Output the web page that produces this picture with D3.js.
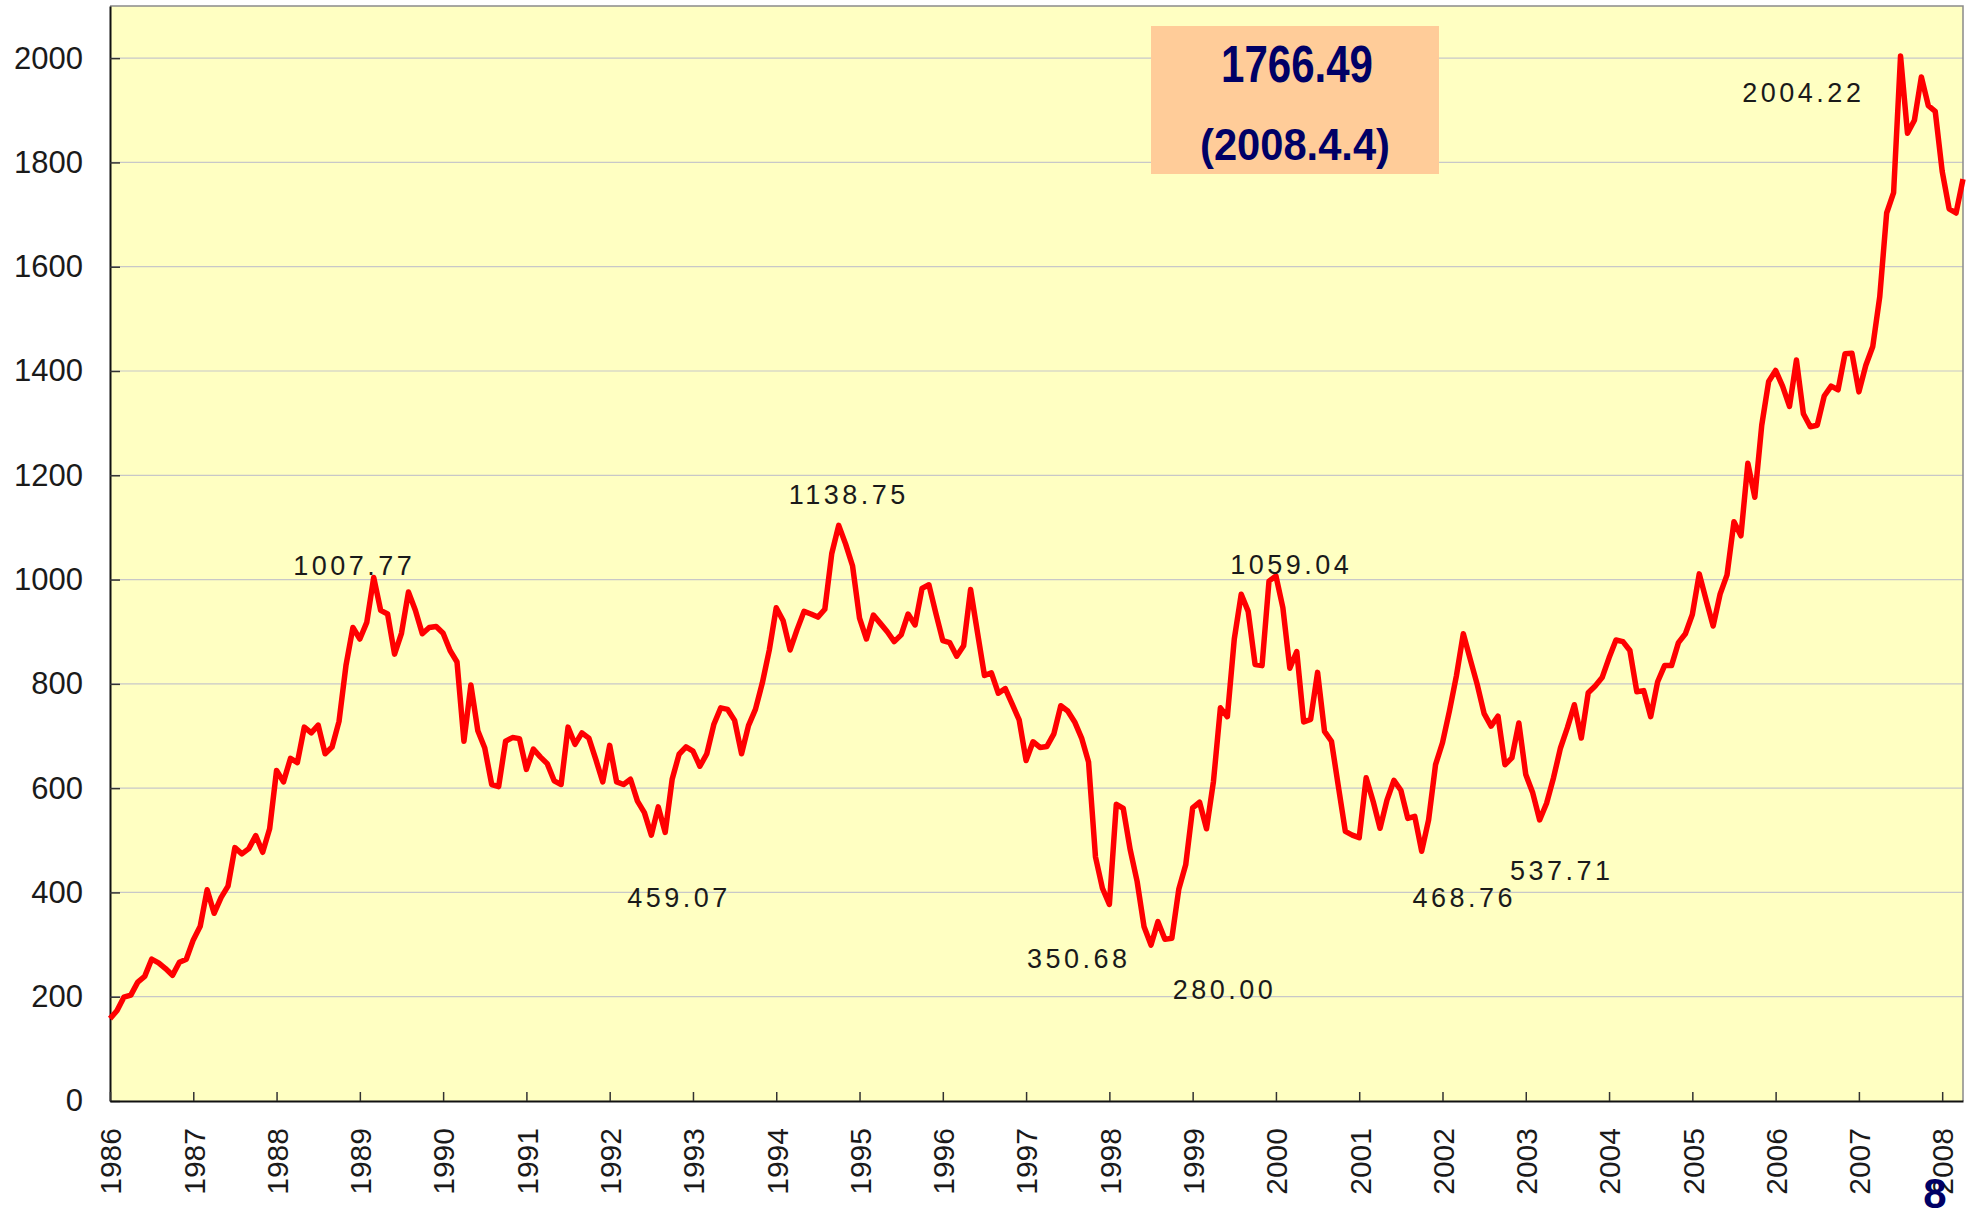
<!DOCTYPE html>
<html>
<head>
<meta charset="utf-8">
<script src="https://cdnjs.cloudflare.com/ajax/libs/d3/7.8.5/d3.min.js"></script>
<style>
  body { margin: 0; background: #fff; }
  svg { display: block; font-family: "Liberation Sans", Arial, sans-serif; }
</style>
</head>
<body>
<svg id="chart"></svg>
<script>
// monthly index level, Jan 1986 .. Apr 2008 (one row per year)
var kospi = [
    158, 173, 199, 203, 228, 239, 272, 265, 254, 241, 266, 272,
    309, 335, 405, 360, 390, 412, 486, 474, 484, 509, 477, 522,
    634, 612, 657, 649, 717, 706, 721, 666, 679, 728, 835, 908,
    886, 918, 1004, 941, 934, 857, 897, 976, 941, 896, 908, 910,
    897, 864, 842, 690, 798, 710, 677, 607, 603, 690, 697, 695,
    636, 675, 660, 647, 614, 607, 717, 684, 706, 696, 655, 612,
    682, 612, 607, 617, 575, 553, 510, 564, 515, 617, 665, 679,
    671, 642, 666, 722, 754, 751, 730, 666, 720, 751, 802, 865,
    946, 921, 865, 904, 939, 934, 928, 943, 1050, 1104, 1068, 1026,
    926, 886, 932, 916, 900, 881, 894, 934, 913, 983, 990, 935,
    883, 879, 853, 873, 981, 898, 816, 821, 782, 791, 761, 731,
    653, 689, 678, 680, 704, 758, 748, 727, 696, 650, 468, 408,
    377, 569, 561, 482, 421, 334, 299, 344, 310, 312, 406, 453,
    562, 573, 522, 613, 754, 737, 886, 972, 939, 837, 835, 997,
    1007, 946, 830, 862, 727, 732, 822, 709, 690, 603, 517, 510,
    505, 620, 575, 523, 577, 615, 596, 542, 546, 479, 539, 645,
    687, 748, 815, 896, 847, 799, 743, 719, 738, 645, 658, 725,
    626, 591, 539, 571, 620, 677, 716, 760, 696, 783, 796, 812,
    850, 884, 881, 864, 785, 787, 737, 804, 835, 835, 879, 896,
    933, 1011, 960, 911, 972, 1009, 1111, 1084, 1223, 1158, 1296, 1380,
    1401, 1371, 1332, 1421, 1318, 1293, 1296, 1352, 1371, 1364, 1433, 1434,
    1360, 1411, 1447, 1542, 1703, 1742, 2004, 1856, 1881, 1964, 1909, 1898,
    1783, 1711, 1703, 1768
];
var startYear = 1986;

var years = [1986, 1987, 1988, 1989, 1990, 1991, 1992, 1993, 1994, 1995, 1996, 1997,
             1998, 1999, 2000, 2001, 2002, 2003, 2004, 2005, 2006, 2007, 2008];
var yTicks = [0, 200, 400, 600, 800, 1000, 1200, 1400, 1600, 1800, 2000];

// peak / trough call-outs: text and where it sits (year, index level)
var noteText  = ["1007.77", "1138.75", "459.07", "1059.04", "350.68", "280.00", "468.76", "537.71", "2004.22"];
var noteYear  = [1988.20, 1994.15, 1992.21, 1999.45, 1997.01, 1998.76, 2001.64, 2002.81, 2005.60];
var noteLevel = [1008, 1145, 372, 1010, 255, 196, 372, 424, 1916];

var latest = ["1766.49", "(2008.4.4)"];
var pageNo = "8";

var W = 1971, H = 1218;
var svg = d3.select("#chart").attr("width", W).attr("height", H);

var x = d3.scaleLinear()
    .domain([startYear, startYear + (kospi.length - 1) / 12])
    .range([110, 1963]);
var y = d3.scaleLinear().domain([0, 2100]).range([1101, 6]);

var data = kospi.map(function(v, i) { return {t: startYear + i / 12, v: v}; });

// plot background
svg.append("rect")
    .attr("x", x.range()[0]).attr("y", y.range()[1])
    .attr("width", x.range()[1] - x.range()[0])
    .attr("height", y.range()[0] - y.range()[1])
    .attr("fill", "#ffffc2");

// gridlines
svg.append("g").selectAll("line")
    .data(yTicks.filter(function(d) { return d > 0; }))
    .join("line")
    .attr("x1", x.range()[0]).attr("x2", x.range()[1])
    .attr("y1", d => y(d)).attr("y2", d => y(d))
    .attr("stroke", "#c8c8c8").attr("stroke-width", 1.2);

// top + right frame
svg.append("path")
    .attr("d", "M" + x.range()[0] + "," + y.range()[1] + "H" + x.range()[1] + "V" + y.range()[0])
    .attr("fill", "none").attr("stroke", "#8a8a8a").attr("stroke-width", 1.5);

// axes
var yAxis = svg.append("g")
    .attr("transform", "translate(" + x.range()[0] + ",0)")
    .call(d3.axisLeft(y).tickValues(yTicks).tickFormat(d3.format("d"))
        .tickSize(-10).tickSizeOuter(0).tickPadding(27));
yAxis.selectAll("text").style("font-size", "31px").attr("fill", "#1a1a1a");

var xAxis = svg.append("g")
    .attr("transform", "translate(0," + y.range()[0] + ")")
    .call(d3.axisBottom(x).tickValues(years).tickFormat(d3.format("d")).tickSize(-9).tickSizeOuter(0));
xAxis.selectAll("text")
    .attr("transform", "rotate(-90)")
    .attr("x", -27).attr("y", 0).attr("dy", "0.36em")
    .style("text-anchor", "end")
    .style("font-size", "30px")
    .attr("fill", "#1a1a1a");

[yAxis, xAxis].forEach(function(a) {
    a.select(".domain").attr("stroke", "#111").attr("stroke-width", 2);
    a.selectAll(".tick line").attr("stroke", "#333").attr("stroke-width", 1.5);
});

// the index line
var line = d3.line().x(d => x(d.t)).y(d => y(d.v));
svg.append("path")
    .datum(data)
    .attr("d", line)
    .attr("fill", "none")
    .attr("stroke", "#ff0000")
    .attr("stroke-width", 5.5)
    .attr("stroke-linejoin", "round");

// call-out labels
svg.append("g").selectAll("text")
    .data(noteText)
    .join("text")
    .attr("x", (d, i) => x(noteYear[i]))
    .attr("y", (d, i) => y(noteLevel[i]))
    .style("font-size", "27px")
    .style("letter-spacing", "3.5px")
    .attr("fill", "#1a1a1a")
    .text(d => d);

// latest value box
var box = svg.append("g");
box.append("rect")
    .attr("x", 1151).attr("y", 26).attr("width", 288).attr("height", 148)
    .attr("fill", "#ffcc99");
box.append("text")
    .attr("x", 1221).attr("y", 82)
    .attr("textLength", 152).attr("lengthAdjust", "spacingAndGlyphs")
    .style("font-size", "51px").style("font-weight", "bold")
    .attr("fill", "#000066")
    .text(latest[0]);
box.append("text")
    .attr("x", 1200).attr("y", 160)
    .attr("textLength", 190).attr("lengthAdjust", "spacingAndGlyphs")
    .style("font-size", "45px").style("font-weight", "bold")
    .attr("fill", "#000066")
    .text(latest[1]);

// page number
svg.append("text")
    .attr("x", 1935).attr("y", 1208)
    .style("text-anchor", "middle")
    .style("font-size", "42px").style("font-weight", "bold")
    .attr("fill", "#000066")
    .text(pageNo);
</script>
</body>
</html>
